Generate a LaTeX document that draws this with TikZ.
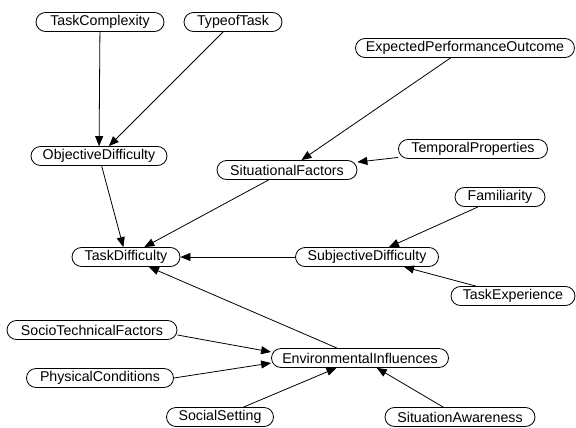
\documentclass[tikz,border=0pt]{standalone}
\usepackage{fontspec}
\setmainfont{Liberation Sans}
\usetikzlibrary{arrows.meta}
\begin{document}
\begin{tikzpicture}[x=1pt,y=-1pt,
  nd/.style={draw=black,line width=0.8pt,rectangle,rounded corners=9.5pt,minimum height=19pt,inner xsep=4pt,inner ysep=0pt,font=\fontsize{14.2}{16}\selectfont,text=black},
  ar/.style={draw=black,line width=0.8pt,-{Triangle[length=10pt,width=8pt]}}]
\useasboundingbox[fill=white] (0,0) rectangle (576,428);
\node[nd,minimum width=128pt] (tc) at (100,22) {TaskComplexity};
\node[nd,minimum width=98pt] (tot) at (233,22) {TypeofTask};
\node[nd,minimum width=136pt] (od) at (99,156) {ObjectiveDifficulty};
\node[nd,minimum width=140pt] (sf) at (287,170) {SituationalFactors};
\node[nd,minimum width=219pt] (epo) at (465,48) {ExpectedPerformanceOutcome};
\node[nd,minimum width=149pt] (tp) at (473,149) {TemporalProperties};
\node[nd,minimum width=90pt] (fam) at (500,197) {Familiarity};
\node[nd,minimum width=143pt] (sd) at (367,257) {SubjectiveDifficulty};
\node[nd,minimum width=124pt] (te) at (513,296) {TaskExperience};
\node[nd,minimum width=108pt] (td) at (126,257) {TaskDifficulty};
\node[nd,minimum width=170pt] (stf) at (92,330) {SocioTechnicalFactors};
\node[nd,minimum width=147pt] (pc) at (100,378) {PhysicalConditions};
\node[nd,minimum width=177pt] (ei) at (360,358) {EnvironmentalInfluences};
\node[nd,minimum width=107pt] (ss) at (220,417) {SocialSetting};
\node[nd,minimum width=150pt] (sa) at (460,417) {SituationAwareness};
\draw[ar] (tc) -- (od);
\draw[ar] (tot) -- (od);
\draw[ar] (od) -- (td);
\draw[ar] (sf) -- (td);
\draw[ar] (epo) -- (sf);
\draw[ar] (tp) -- (sf);
\draw[ar] (fam) -- (sd);
\draw[ar] (te) -- (sd);
\draw[ar] (sd) -- (td);
\draw[ar] (ei) -- (td);
\draw[ar] ([yshift=-5pt]stf.east) -- ([yshift=6pt]ei.west);
\draw[ar] (pc.east) -- ([yshift=-5pt]ei.west);
\draw[ar] (ss) -- (ei);
\draw[ar] (sa) -- (ei);
\end{tikzpicture}
\end{document}
